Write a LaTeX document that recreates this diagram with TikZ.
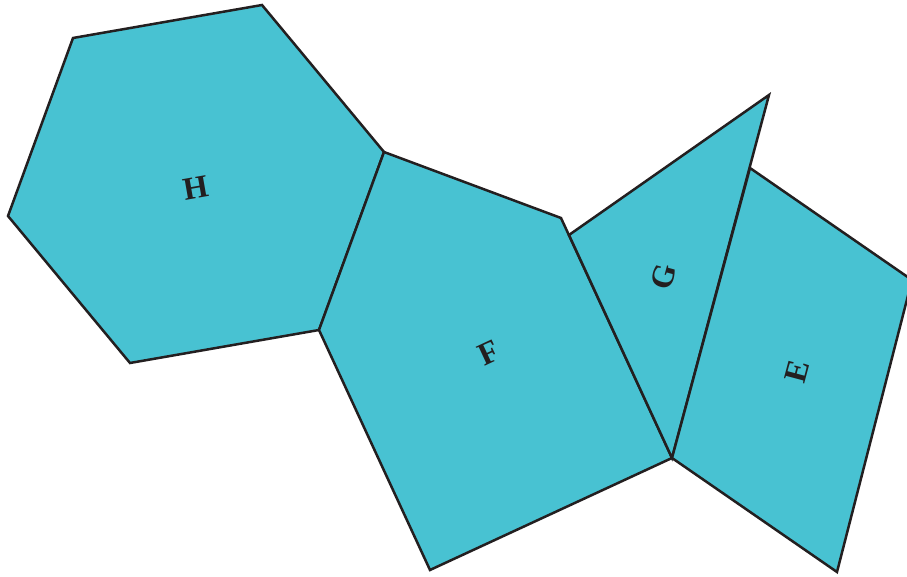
\documentclass[tikz,border=0pt]{standalone}
\usepackage{fontspec}
\setmainfont{Liberation Serif}
\definecolor{tile}{HTML}{48C2D2}
\definecolor{edge}{HTML}{231F20}

\begin{document}
\begin{tikzpicture}[x=0.5pt,y=-0.5pt,
  face/.style={draw=edge,fill=tile,line width=1.25pt,line join=miter},
  letter/.style={font=\bfseries\fontsize{16}{16}\selectfont,text=edge,inner sep=0pt}]
  \useasboundingbox (0,0) rectangle (907,577);

  % Hexagon H
  \draw[face] (73,38) -- (262,5) -- (384,152) -- (319,330) -- (130,363) -- (8,216) -- cycle;
  \node[letter,rotate=10] (labH) at (196,188) {H};

  % Pentagon F
  \draw[face] (384,152) -- (561,218) -- (672,458) -- (430,570) -- (319,330) -- cycle;
  \node[letter,rotate=25] (labF) at (489,353) {F};

  % Triangle G
  \draw[face] (569,235) -- (769,95) -- (672,458) -- cycle;
  \node[letter,rotate=75] (labG) at (664,277) {G};

  % Quadrilateral E (right corner runs to the edge of the page)
  \begin{scope}
    \clip (0,0) rectangle (907,577);
    \draw[face] (750,168) -- (912,280) -- (837,572) -- (672,458) -- cycle;
  \end{scope}
  \node[letter,rotate=75] (labE) at (797,371) {E};
\end{tikzpicture}
\end{document}
